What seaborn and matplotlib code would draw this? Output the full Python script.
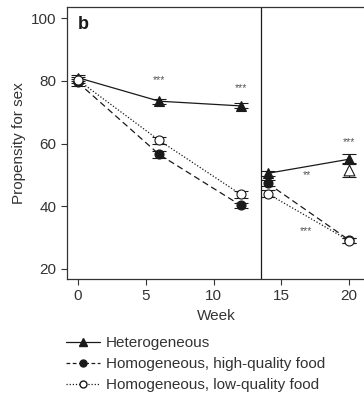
import numpy as np
import pandas as pd
import matplotlib
matplotlib.use("Agg")
import matplotlib.pyplot as plt
import seaborn as sb
from matplotlib.lines import Line2D

weeks_a = [0, 6, 12]
weeks_b = [14, 20]

het_a = [81.0, 73.5, 72.0]
het_a_err = [1.0, 0.8, 0.8]
het_b = [50.5, 55.0]
het_b_err = [0.8, 1.5]

high_a = [79.5, 56.5, 40.3]
high_a_err = [1.0, 1.0, 0.8]
high_b = [47.3, 29.2]
high_b_err = [1.0, 0.8]

low_a = [80.3, 61.0, 43.8]
low_a_err = [1.0, 1.0, 1.2]
low_b = [44.0, 29.0]
low_b_err = [1.2, 0.8]

# open triangle at week 20 (not in legend)
extra_week = [20]
extra_val = [51.5]
extra_err = [2.2]

stars = [(6, 78.5, "***"), (12, 76.0, "***"), (20, 59.0, "***"),
         (16.9, 48.5, "**"), (16.8, 30.5, "***")]

sb.set_theme(style="ticks")
plt.rcParams['font.family'] = ['Liberation Sans', 'DejaVu Sans']
txt = '#333333'

fig = plt.figure(figsize=(3.64, 3.96), dpi=100)
ax = fig.add_axes([0.184, 0.2955, 0.82, 0.6865])

series = [
    (het_a, het_a_err, het_b, het_b_err, '^', 'k', '-', 7.5),
    (high_a, high_a_err, high_b, high_b_err, 'o', 'k', (0, (5, 3)), 6.5),
    (low_a, low_a_err, low_b, low_b_err, 'o', 'white', (0, (1, 1.5)), 6.5),
]
for ya, ea, yb, eb, mk, fc, ls, ms in series:
    for xs, ys, es in [(weeks_a, ya, ea), (weeks_b, yb, eb)]:
        ax.errorbar(xs, ys, yerr=es, fmt='none', ecolor='k', elinewidth=0.8,
                    capsize=5, capthick=0.8, zorder=2)
        sb.lineplot(x=xs, y=ys, ax=ax, color='k', linestyle=ls, linewidth=0.9,
                    marker=mk, markersize=ms, markerfacecolor=fc,
                    markeredgecolor='k', markeredgewidth=0.8, zorder=3)

ax.errorbar(extra_week, extra_val, yerr=extra_err, fmt='none', ecolor='k',
            elinewidth=0.8, capsize=5, capthick=0.8)
sb.scatterplot(x=extra_week, y=extra_val, ax=ax, marker='^', s=60,
               facecolor='white', edgecolor='k', linewidth=0.8, zorder=3)

for x, y, s in stars:
    ax.text(x, y, s, ha='center', va='bottom', fontsize=7.5, color='#555555')

ax.axvline(13.5, color='k', linewidth=0.9)
ax.text(0.0, 96.5, 'b', fontsize=13, fontweight='bold', color='k')

ax.set_xlim(-0.8, 21.2)
ax.set_ylim(16.8, 103.5)
ax.set_xticks([0, 5, 10, 15, 20])
ax.set_yticks([20, 40, 60, 80, 100])
ax.tick_params(colors=txt, labelsize=11, length=4, width=0.8, labelcolor=txt)
ax.set_xlabel('Week', fontsize=11, color=txt)
ax.set_ylabel('Propensity for sex', fontsize=11, color=txt)
for side in ['left', 'bottom', 'top']:
    ax.spines[side].set_color('#333333')
    ax.spines[side].set_linewidth(0.9)
ax.spines['right'].set_visible(False)

handles = [
    Line2D([], [], color='k', linestyle='-', linewidth=0.9, marker='^', markersize=6,
           markerfacecolor='k', markeredgecolor='k'),
    Line2D([], [], color='k', linestyle=(0, (3, 2)), linewidth=0.9, marker='o', markersize=5,
           markerfacecolor='k', markeredgecolor='k'),
    Line2D([], [], color='k', linestyle=(0, (1, 1.5)), linewidth=0.9, marker='o', markersize=5,
           markerfacecolor='white', markeredgecolor='k'),
]
labels = ['Heterogeneous', 'Homogeneous, high-quality food', 'Homogeneous, low-quality food']
leg = fig.legend(handles, labels, loc='upper left', bbox_to_anchor=(0.165, 0.166),
                 frameon=False, fontsize=11, handlelength=2.2, handletextpad=0.4,
                 labelspacing=0.45, borderaxespad=0)
for t in leg.get_texts():
    t.set_color(txt)

fig.savefig('out.png', dpi=100)
